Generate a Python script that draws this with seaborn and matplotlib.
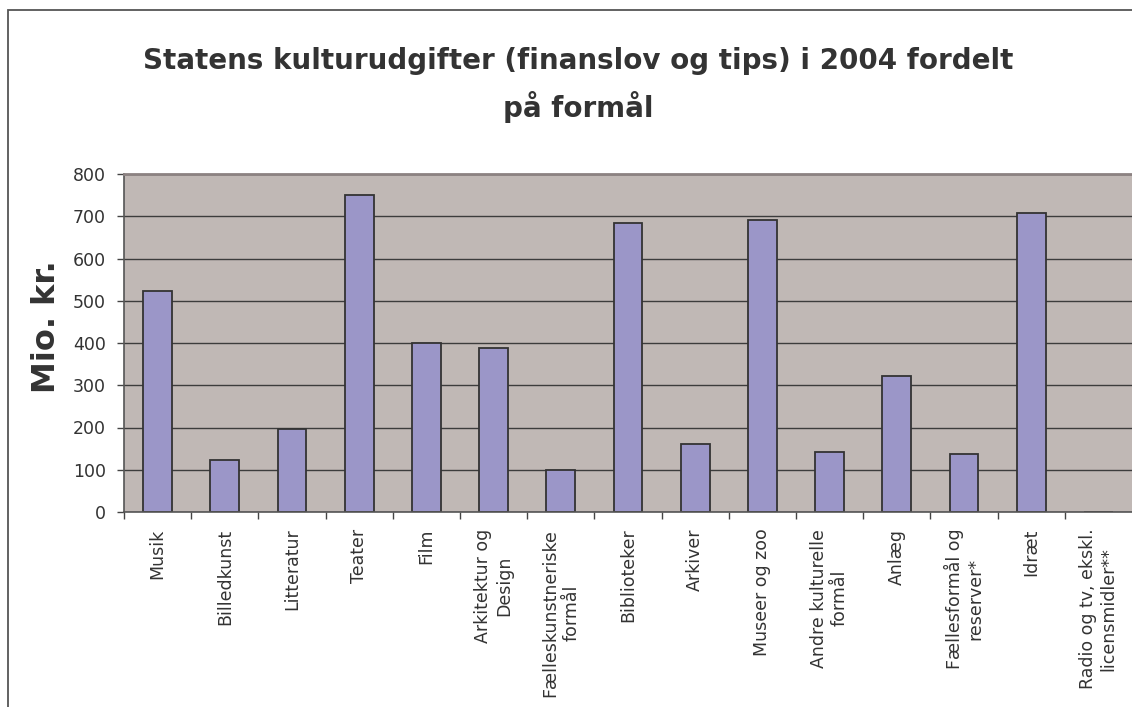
import seaborn as sns
import matplotlib.pyplot as plt
import matplotlib.patches as mpatches
import numpy as np
import pandas as pd

categories = [
    'Musik', 'Billedkunst', 'Litteratur', 'Teater', 'Film',
    'Arkitektur og\nDesign', 'Fælleskunstneriske\nformål', 'Biblioteker',
    'Arkiver', 'Museer og zoo', 'Andre kulturelle\nformål', 'Anlæg',
    'Fællesformål og\nreserver*', 'Idræt', 'Radio og tv, ekskl.\nlicensmidler**'
]
values = [522, 123, 197, 750, 400, 387, 99, 684, 160, 690, 143, 322, 137, 708, 0]
y_ticks = [0, 100, 200, 300, 400, 500, 600, 700, 800]

title = 'Statens kulturudgifter (finanslov og tips) i 2004 fordelt\npå formål'
y_label = 'Mio. kr.'

df = pd.DataFrame({'formaal': categories, 'mio': values})

sns.set_theme(style='white')
plt.rcParams['font.family'] = ['DejaVu Sans']

W, H = 1132, 707
fig = plt.figure(figsize=(W / 100, H / 100), dpi=100)
ax = fig.add_axes([124 / W, 1 - 512 / H, (W - 124) / W, (512 - 174) / H])

sns.barplot(
    data=df
    , x='formaal'
    , y='mio'
    , order=categories
    , color='#9B96C8'
    , saturation=1
    , edgecolor='#333333'
    , linewidth=1.3
    , width=0.43
    , ax=ax
)

ax.set_facecolor('#C0B8B5')
ax.set_axisbelow(True)
ax.yaxis.grid(True, color='#3C3C3C', linewidth=1)
ax.xaxis.grid(False)

_ = ax.set(
    xlabel=''
    , ylabel=''
    , ylim=(0, 800)
    , xlim=(-0.5, len(categories) - 0.5)
    , yticks=y_ticks
)

# spines
for side in ['left', 'bottom']:
    ax.spines[side].set_color('#555555')
    ax.spines[side].set_linewidth(1.2)
ax.spines['top'].set_color('#8C8282')
ax.spines['top'].set_linewidth(2)
ax.spines['right'].set_visible(False)

# ticks
ax.tick_params(axis='y', direction='out', length=5, width=1, color='#444444',
               labelsize=12.5, labelcolor='#333333', pad=8, left=True)
ax.tick_params(axis='x', which='major', length=0, labelsize=12.5,
               labelcolor='#333333', pad=12)
ax.set_xticks(np.arange(-0.5, len(categories) - 1, 1), minor=True)
ax.tick_params(axis='x', which='minor', direction='out', length=5, width=1,
               color='#444444', bottom=True)
for lbl in ax.get_xticklabels():
    lbl.set_rotation(90)
    lbl.set_ha('center')
    lbl.set_va('top')
    lbl.set_multialignment('center')

fig.text(47 / W, 1 - 327 / H, y_label, rotation=90, ha='center', va='center',
         fontsize=23, fontweight='bold', color='#333333')

fig.text(578 / W, 1 - 47 / H, title, ha='center', va='top',
         fontsize=20, fontweight='bold', color='#333333', linespacing=1.6)

# outer chart border
fig.patches.append(mpatches.Rectangle(
    (8 / W, -0.1), 1.2, 1.1 - 10 / H,
    transform=fig.transFigure, fill=False, edgecolor='#555555', linewidth=1.3
))

fig.savefig('out.png', dpi=100)
